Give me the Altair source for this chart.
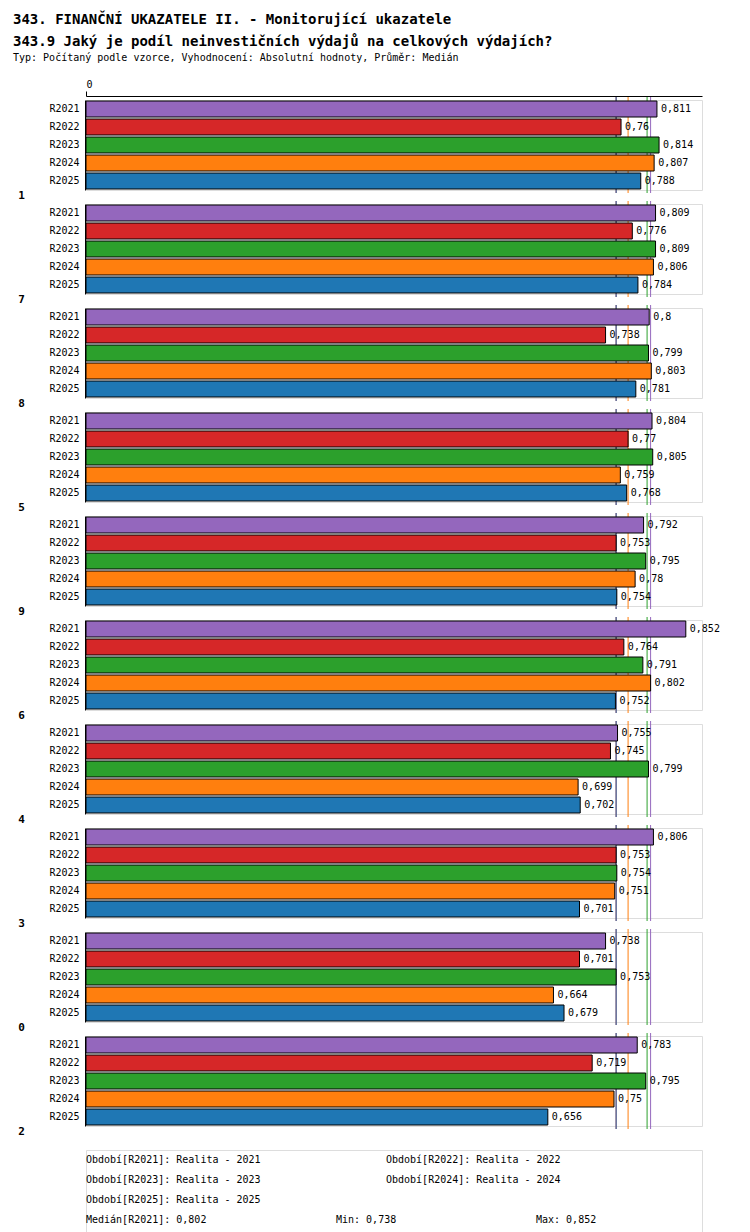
import altair as alt
import pandas as pd

groups = ["1", "7", "8", "5", "9", "6", "4", "3", "0", "2"]
series = ["R2021", "R2022", "R2023", "R2024", "R2025"]
colors = ["#9467bd", "#d62728", "#2ca02c", "#ff7f0e", "#1f77b4"]
values = [
    [0.811, 0.76, 0.814, 0.807, 0.788],
    [0.809, 0.776, 0.809, 0.806, 0.784],
    [0.8, 0.738, 0.799, 0.803, 0.781],
    [0.804, 0.77, 0.805, 0.759, 0.768],
    [0.792, 0.753, 0.795, 0.78, 0.754],
    [0.852, 0.764, 0.791, 0.802, 0.752],
    [0.755, 0.745, 0.799, 0.699, 0.702],
    [0.806, 0.753, 0.754, 0.751, 0.701],
    [0.738, 0.701, 0.753, 0.664, 0.679],
    [0.783, 0.719, 0.795, 0.75, 0.656],
]
medians = [0.802, 0.753, 0.797, 0.77, 0.753]
mins = [0.738, 0.701, 0.753, 0.664, 0.656]
maxs = [0.852, 0.776, 0.814, 0.807, 0.788]
periods = ["Realita - 2021", "Realita - 2022", "Realita - 2023", "Realita - 2024", "Realita - 2025"]

FONT = "DejaVu Sans Mono"

def fmt(v):
    return f"{v:g}".replace(".", ",")

rows = []
for g, vals in zip(groups, values):
    for s, v, m in zip(series, vals, medians):
        rows.append({"group": g, "series": s, "value": v, "label": fmt(v), "median": m})
df = pd.DataFrame(rows)

cscale = alt.Scale(domain=series, range=colors)
xscale = alt.Scale(domain=[0, 0.875], nice=False)
yscale = alt.Scale(paddingInner=0, paddingOuter=0)

base = alt.Chart(df).properties(width=616, height=alt.Step(18))
bars = base.mark_bar(stroke="black", strokeWidth=1, height=16).encode(
    x=alt.X("value:Q", scale=xscale,
            axis=alt.Axis(orient="top", values=[0], labelExpr="'0'", title=None, grid=False,
                          labelFont=FONT, labelFontSize=10, domainColor="black",
                          tickColor="black", labelColor="black")),
    y=alt.Y("series:N", sort=series, scale=yscale,
            axis=alt.Axis(title=None, ticks=False, domain=True, domainColor="black",
                          labelFont=FONT, labelFontSize=10, labelColor="black", labelPadding=6)),
    color=alt.Color("series:N", scale=cscale, legend=None),
)
rules = base.mark_rule(strokeWidth=1, clip=False).encode(
    x=alt.X("median:Q", scale=xscale),
    y=alt.value(-3), y2=alt.value(93),
    color=alt.Color("series:N", scale=cscale, legend=None),
)
texts = base.mark_text(align="left", dx=4, font=FONT, fontSize=10, color="black").encode(
    x=alt.X("value:Q", scale=xscale),
    y=alt.Y("series:N", sort=series, scale=yscale),
    text="label:N",
)
bars_chart = alt.layer(rules, bars, texts).facet(
    row=alt.Row("group:N", sort=groups,
                header=alt.Header(title=None, labelOrient="left", labelAngle=0,
                                  labelFont=FONT, labelFontSize=11, labelFontWeight="bold",
                                  labelAlign="left", labelAnchor="start", labelBaseline="top",
                                  labelPadding=24)),
    spacing=6,
)

foot = []
for i, (s, p) in enumerate(zip(series, periods)):
    foot.append({"col": i % 2 * 3, "row": i // 2, "t": f"Období[{s}]: {p}"})
for i, s in enumerate(series):
    r = 3 + i
    foot.append({"col": 0, "row": r, "t": f"Medián[{s}]: {fmt(medians[i])}"})
    foot.append({"col": 2.5, "row": r, "t": f"Min: {fmt(mins[i])}"})
    foot.append({"col": 4.5, "row": r, "t": f"Max: {fmt(maxs[i])}"})
footer = alt.Chart(pd.DataFrame(foot)).mark_text(
    align="left", baseline="middle", font=FONT, fontSize=10, color="black"
).encode(
    x=alt.X("col:Q", scale=alt.Scale(domain=[0, 6.16]), axis=None),
    y=alt.Y("row:Q", scale=alt.Scale(domain=[-0.5, 7.5], reverse=True), axis=None),
    text="t:N",
).properties(width=616, height=160)

chart = alt.vconcat(bars_chart, footer, spacing=12).properties(
    title=alt.TitleParams(
        text=["343. FINANČNÍ UKAZATELE II. - Monitorující ukazatele",
              "343.9 Jaký je podíl neinvestičních výdajů na celkových výdajích?"],
        subtitle="Typ: Počítaný podle vzorce, Vyhodnocení: Absolutní hodnoty, Průměr: Medián",
        anchor="start", frame="group", font=FONT, fontSize=14, fontWeight="bold",
        lineHeight=22, subtitleFont=FONT, subtitleFontSize=10, subtitlePadding=4,
        offset=16, color="black", dx=-73,
    )
).configure_view(strokeWidth=0).configure(background="white")

chart.save("out.html", embed_options={"renderer": "svg", "actions": False})
